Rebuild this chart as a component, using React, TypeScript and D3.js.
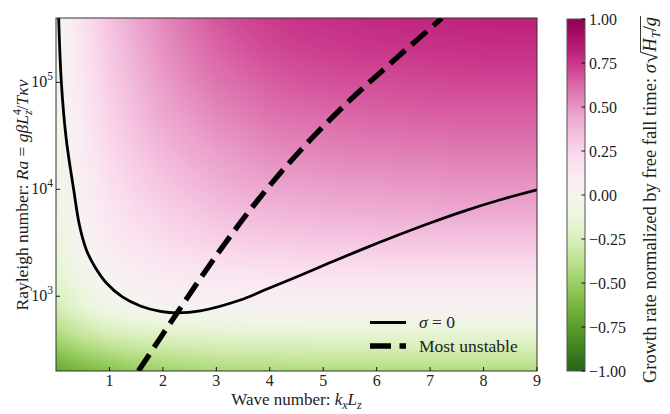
import React, { useLayoutEffect, useMemo, useRef, useState } from "react";
import * as d3 from "d3";

// Wave-number nodes of the growth-rate grid
const kNodes = [0, 0.5, 1, 1.5, 2, 2.5, 3, 3.5, 4, 4.5, 5, 5.5, 6, 6.5, 7, 7.5, 8, 8.5, 9];
// log10(Ra) nodes of the growth-rate grid
const logRaNodes = [2.3, 2.6, 2.9, 3.2, 3.5, 3.8, 4.1, 4.4, 4.7, 5.0, 5.3, 5.6];
// Normalized growth rate, one column per kNodes entry, from low Ra to high Ra
const growthRate = [
  [-0.7, -0.46, -0.27, -0.18, -0.13, -0.1, -0.08, -0.06, -0.05, -0.04, -0.03, -0.02],
  [-0.63, -0.37, -0.16, -0.07, -0.01, 0.04, 0.07, 0.1, 0.12, 0.14, 0.16, 0.18],
  [-0.57, -0.31, -0.06, 0.04, 0.1, 0.15, 0.19, 0.23, 0.26, 0.29, 0.31, 0.34],
  [-0.52, -0.27, -0.02, 0.08, 0.15, 0.22, 0.27, 0.32, 0.36, 0.39, 0.42, 0.45],
  [-0.48, -0.25, 0.01, 0.11, 0.2, 0.27, 0.33, 0.39, 0.44, 0.48, 0.51, 0.54],
  [-0.46, -0.23, 0.02, 0.13, 0.23, 0.31, 0.38, 0.44, 0.49, 0.54, 0.58, 0.61],
  [-0.44, -0.22, 0.02, 0.14, 0.26, 0.35, 0.42, 0.48, 0.54, 0.59, 0.63, 0.67],
  [-0.43, -0.21, 0.03, 0.15, 0.28, 0.37, 0.45, 0.51, 0.57, 0.62, 0.67, 0.71],
  [-0.43, -0.21, 0.03, 0.16, 0.29, 0.39, 0.47, 0.54, 0.6, 0.65, 0.7, 0.74],
  [-0.42, -0.21, 0.03, 0.16, 0.3, 0.4, 0.48, 0.55, 0.61, 0.67, 0.72, 0.76],
  [-0.42, -0.2, 0.03, 0.17, 0.31, 0.41, 0.49, 0.56, 0.62, 0.68, 0.73, 0.77],
  [-0.42, -0.2, 0.03, 0.17, 0.31, 0.42, 0.5, 0.57, 0.63, 0.69, 0.74, 0.78],
  [-0.42, -0.2, 0.03, 0.17, 0.32, 0.42, 0.5, 0.57, 0.64, 0.69, 0.75, 0.79],
  [-0.42, -0.2, 0.03, 0.17, 0.32, 0.43, 0.51, 0.58, 0.64, 0.7, 0.75, 0.8],
  [-0.42, -0.2, 0.03, 0.17, 0.32, 0.43, 0.51, 0.58, 0.65, 0.7, 0.76, 0.8],
  [-0.42, -0.2, 0.03, 0.17, 0.32, 0.44, 0.52, 0.59, 0.65, 0.71, 0.76, 0.81],
  [-0.42, -0.2, 0.03, 0.17, 0.32, 0.44, 0.52, 0.59, 0.65, 0.71, 0.77, 0.81],
  [-0.42, -0.2, 0.03, 0.17, 0.32, 0.44, 0.52, 0.59, 0.65, 0.71, 0.77, 0.82],
  [-0.42, -0.2, 0.03, 0.17, 0.32, 0.44, 0.52, 0.59, 0.65, 0.71, 0.77, 0.82],
];

// Marginal stability curve (sigma = 0)
const neutralK = [0.05, 0.1, 0.19, 0.33, 0.438, 0.569, 0.718, 0.943, 1.242, 1.579, 1.953, 2.271, 2.7, 3.45, 3.88, 4.52, 5.13, 5.75, 6.39, 7.0, 7.62, 8.3, 9.0];
const neutralRa = [400000, 100000, 30000, 10000, 4640, 2712, 1919, 1330, 985, 811, 721, 698, 730, 923, 1130, 1530, 2065, 2773, 3715, 4842, 6223, 7943, 9886];

// Most unstable wave number
const unstableK = [1.542, 2.271, 3.038, 3.768, 4.573, 5.452, 6.256, 7.22];
const unstableRa = [200, 706, 2560, 7820, 23100, 64700, 150000, 399000];

const xTicks = [1, 2, 3, 4, 5, 6, 7, 8, 9];
const yTickExps = [3, 4, 5];
const cbarTicks = [-1, -0.75, -0.5, -0.25, 0, 0.25, 0.5, 0.75, 1];

const FONT = "'Liberation Serif', 'DejaVu Serif', serif";
const X0 = 56, X1 = 537, Y0 = 18, Y1 = 371;
const CB_X = 567, CB_W = 18, CB_Y0 = 19, CB_Y1 = 371;
const CB_LABEL_SIZE = 18.5;

const cmap = (v: number) => d3.interpolatePiYG((1 - v) / 2);

function bracket(nodes: number[], v: number): [number, number] {
  let i = d3.bisectRight(nodes, v) - 1;
  i = Math.max(0, Math.min(nodes.length - 2, i));
  const t = Math.max(0, Math.min(1, (v - nodes[i]) / (nodes[i + 1] - nodes[i])));
  return [i, t];
}

function fmtTick(v: number) {
  const s = Math.abs(v).toFixed(2);
  return v < 0 ? "\u2212" + s : s;
}

export default function App() {
  const x = d3.scaleLinear().domain([0, 9]).range([X0, X1]);
  const y = d3.scaleLog().domain([200, 400000]).range([Y1, Y0]);
  const cy = d3.scaleLinear().domain([-1, 1]).range([CB_Y1, CB_Y0]);

  const cbLabelRef = useRef<SVGTextElement>(null);
  const [vinculum, setVinculum] = useState<[number, number] | null>(null);

  // radical bar over H_T/g, placed from the measured glyph positions
  useLayoutEffect(() => {
    const el = cbLabelRef.current;
    if (!el) return;
    const txt = el.textContent || "";
    const iRoot = txt.indexOf("\u221A");
    if (iRoot < 0) return;
    try {
      const start = el.getEndPositionOfChar(iRoot).x;
      const end = el.getEndPositionOfChar(txt.length - 1).x;
      setVinculum([start - 0.5, end + 1]);
    } catch (e) {
      /* measurement unavailable */
    }
  }, []);

  const heatUrl = useMemo(() => {
    const w = X1 - X0, h = Y1 - Y0;
    const canvas = document.createElement("canvas");
    canvas.width = w;
    canvas.height = h;
    const ctx = canvas.getContext("2d");
    if (!ctx) return "";
    const img = ctx.createImageData(w, h);
    const lut = d3.range(1001).map((i) => d3.rgb(cmap(-1 + (2 * i) / 1000)));
    for (let py = 0; py < h; py++) {
      const lr = Math.log10(y.invert(Y0 + py + 0.5));
      const [j, ty] = bracket(logRaNodes, lr);
      for (let px = 0; px < w; px++) {
        const k = x.invert(X0 + px + 0.5);
        const [i, tx] = bracket(kNodes, k);
        const v =
          (1 - tx) * (1 - ty) * growthRate[i][j] +
          tx * (1 - ty) * growthRate[i + 1][j] +
          (1 - tx) * ty * growthRate[i][j + 1] +
          tx * ty * growthRate[i + 1][j + 1];
        const c = lut[Math.round(((Math.max(-1, Math.min(1, v)) + 1) / 2) * 1000)];
        const o = (py * w + px) * 4;
        img.data[o] = c.r;
        img.data[o + 1] = c.g;
        img.data[o + 2] = c.b;
        img.data[o + 3] = 255;
      }
    }
    ctx.putImageData(img, 0, 0);
    return canvas.toDataURL();
  }, []);

  const line = d3
    .line<[number, number]>()
    .x((d) => x(d[0]))
    .y((d) => y(d[1]))
    .curve(d3.curveCatmullRom.alpha(0.5));
  const neutralPath = line(neutralK.map((k, i) => [k, neutralRa[i]]) as [number, number][]) || "";
  const unstablePath = line(unstableK.map((k, i) => [k, unstableRa[i]]) as [number, number][]) || "";

  const cbStops = d3.range(0, 1.0001, 0.025);

  return (
    <svg
      width={670}
      height={414}
      style={{ position: "absolute", left: 0, top: 0, background: "#fff" }}
      fontFamily={FONT}
    >
      <defs>
        <clipPath id="plotClip">
          <rect x={X0} y={Y0} width={X1 - X0} height={Y1 - Y0} />
        </clipPath>
        <linearGradient id="cbGrad" x1="0" y1="1" x2="0" y2="0">
          {cbStops.map((t) => (
            <stop key={t} offset={t} stopColor={cmap(-1 + 2 * t)} />
          ))}
        </linearGradient>
      </defs>

      {heatUrl && (
        <image href={heatUrl} x={X0} y={Y0} width={X1 - X0} height={Y1 - Y0} preserveAspectRatio="none" />
      )}

      <g clipPath="url(#plotClip)" fill="none" stroke="#000">
        <path d={neutralPath} strokeWidth={2.8} />
        <path d={unstablePath} strokeWidth={5.3} strokeDasharray="20,8.5" />
      </g>

      <rect x={X0} y={Y0} width={X1 - X0} height={Y1 - Y0} fill="none" stroke="#333" strokeWidth={1} />

      {xTicks.map((t) => (
        <g key={t}>
          <line x1={x(t)} x2={x(t)} y1={Y1} y2={Y1 - 4} stroke="#000" strokeWidth={0.9} />
          <text x={x(t)} y={386} textAnchor="middle" fontSize={16} fill="#222">
            {t}
          </text>
        </g>
      ))}
      {yTickExps.map((e) => (
        <g key={e}>
          <line x1={X0} x2={X0 + 4} y1={y(10 ** e)} y2={y(10 ** e)} stroke="#000" strokeWidth={0.9} />
          <text x={53} y={y(10 ** e) + 5} textAnchor="end" fontSize={16} fill="#222">
            10
            <tspan fontSize={11.5} dy={-7}>
              {e}
            </tspan>
          </text>
        </g>
      ))}

      <text x={(X0 + X1) / 2} y={405} textAnchor="middle" fontSize={17} fill="#222">
        Wave number:{" "}
        <tspan fontStyle="italic">k</tspan>
        <tspan fontSize={12} dy={4} fontStyle="italic">x</tspan>
        <tspan fontStyle="italic" dy={-4}>L</tspan>
        <tspan fontSize={12} dy={4} fontStyle="italic">z</tspan>
      </text>

      <text transform="translate(28,195) rotate(-90)" textAnchor="middle" fontSize={17.5} fill="#222">
        Rayleigh number: <tspan fontStyle="italic">Ra</tspan> = <tspan fontStyle="italic">gβL</tspan>
        <tspan fontSize={12} dy={-7}>4</tspan>
        <tspan fontSize={12} dx={-6} dy={11} fontStyle="italic">z</tspan>
        <tspan dy={-4}>/</tspan>
        <tspan fontStyle="italic">Tκν</tspan>
      </text>

      {/* legend */}
      <line x1={370} x2={406} y1={322.5} y2={322.5} stroke="#000" strokeWidth={2.8} />
      <text x={419} y={328} fontSize={17.5} fill="#222">
        <tspan fontStyle="italic">σ</tspan> = 0
      </text>
      <line x1={370} x2={406} y1={346} y2={346} stroke="#000" strokeWidth={5.3} strokeDasharray="21,8.5" />
      <text x={419} y={351.5} fontSize={17.5} fill="#222">
        Most unstable
      </text>

      {/* colorbar */}
      <rect x={CB_X} y={CB_Y0} width={CB_W} height={CB_Y1 - CB_Y0} fill="url(#cbGrad)" stroke="#555" strokeWidth={1} />
      {cbarTicks.map((t) => (
        <g key={t}>
          <line x1={CB_X + CB_W - 3.5} x2={CB_X + CB_W} y1={cy(t)} y2={cy(t)} stroke="#000" strokeWidth={0.9} />
          <text x={589} y={cy(t) + 5.5} fontSize={16} fill="#222">
            {fmtTick(t)}
          </text>
        </g>
      ))}
      <g transform="translate(656,200) rotate(-90)">
        <text ref={cbLabelRef} textAnchor="middle" fontSize={CB_LABEL_SIZE} fill="#222">
          Growth rate normalized by free fall time: <tspan fontStyle="italic">σ</tspan>
          <tspan dx={1} fontSize={21} dy={1}>√</tspan>
          <tspan fontStyle="italic" dy={-1}>H</tspan>
          <tspan fontSize={12.5} dy={4} fontStyle="italic">T</tspan>
          <tspan dy={-4}>/</tspan>
          <tspan fontStyle="italic">g</tspan>
        </text>
        {vinculum && (
          <line
            x1={vinculum[0]}
            x2={vinculum[1]}
            y1={-15.5}
            y2={-15.5}
            stroke="#222"
            strokeWidth={0.9}
          />
        )}
      </g>
    </svg>
  );
}
